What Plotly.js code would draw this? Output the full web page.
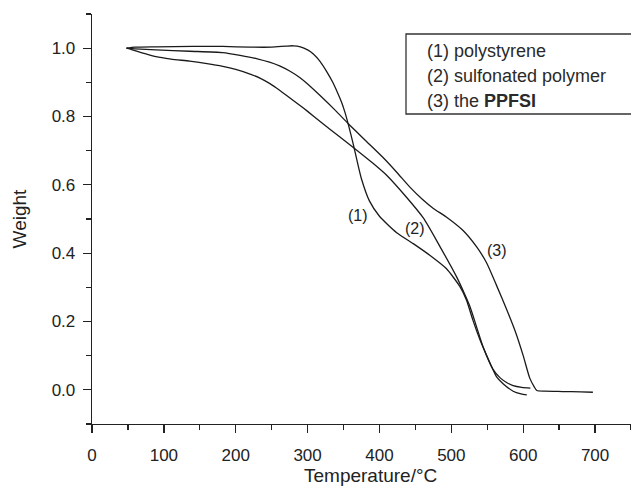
<!DOCTYPE html>
<html>
<head>
<meta charset="utf-8">
<script src="https://cdn.plot.ly/plotly-3.0.1.min.js"></script>
<style>html,body{margin:0;padding:0;background:#fff;}#chart{width:631px;height:487px;}</style>
</head>
<body>
<div id="chart"></div>
<script>
// Series 1: polystyrene
var tempPS = [48, 60, 89, 140, 182, 220, 250, 270, 280, 290, 300, 308, 317, 327, 335, 342, 347, 352, 357, 364, 368, 375, 386, 400, 424, 447, 470, 493, 512, 521, 530, 540, 554, 563, 572, 586, 597, 605];
var weightPS = [1.0, 1.003, 1.004, 1.005, 1.005, 1.003, 1.003, 1.006, 1.007, 1.004, 0.995, 0.983, 0.962, 0.93, 0.9, 0.868, 0.843, 0.812, 0.774, 0.715, 0.678, 0.617, 0.553, 0.508, 0.46, 0.428, 0.394, 0.355, 0.302, 0.263, 0.204, 0.146, 0.078, 0.038, 0.018, -0.004, -0.012, -0.015];
// Series 2: sulfonated polymer
var tempSP = [48, 55, 62, 75, 89, 110, 136, 160, 182, 200, 219, 235, 247, 261, 275, 289, 300, 317, 345, 364.5, 391, 410, 437, 461, 484, 507, 516, 526, 535, 544, 558, 568, 578, 586, 598, 610];
var weightSP = [1.0, 0.996, 0.991, 0.983, 0.975, 0.968, 0.962, 0.955, 0.947, 0.938, 0.925, 0.911, 0.897, 0.877, 0.855, 0.833, 0.815, 0.786, 0.74, 0.708, 0.663, 0.628, 0.565, 0.503, 0.42, 0.332, 0.292, 0.243, 0.185, 0.127, 0.06, 0.035, 0.02, 0.012, 0.007, 0.005];
// Series 3: the PPFSI
var tempPP = [48, 60, 89, 136, 182, 206, 230, 247, 261, 275, 289, 300, 317, 340, 357, 382, 405, 424, 442, 460, 475, 493, 516, 535, 549, 563, 577, 590, 600, 609, 615, 619, 630, 655, 680, 697];
var weightPP = [1.0, 0.998, 0.995, 0.991, 0.987, 0.979, 0.969, 0.959, 0.948, 0.933, 0.914, 0.895, 0.862, 0.815, 0.778, 0.727, 0.68, 0.637, 0.594, 0.557, 0.531, 0.506, 0.467, 0.419, 0.372, 0.305, 0.235, 0.165, 0.1, 0.035, 0.01, -0.002, -0.004, -0.005, -0.006, -0.007];

var legendLines = ["(1) polystyrene", "(2) sulfonated polymer", "(3) the <b>PPFSI</b>"];
var curveLabels = ["(1)", "(2)", "(3)"];
var labelX = [370, 450, 563];
var labelY = [0.511, 0.472, 0.407];
var xTitle = "Temperature/°C";
var yTitle = "Weight";

var traces = [
  {x: tempPS, y: weightPS, mode: 'lines', name: 'polystyrene'},
  {x: tempSP, y: weightSP, mode: 'lines', name: 'sulfonated polymer'},
  {x: tempPP, y: weightPP, mode: 'lines', name: 'the PPFSI'}
];
traces.forEach(function(t){ t.line = {color: '#1a1a1a', width: 1.3, shape: 'spline', smoothing: 0.6}; });

var L = 92, T = 14, W = 631 - 92, H = 487 - 14 - 63;
var annotations = [];
for (var i = 0; i < curveLabels.length; i++) {
  annotations.push({x: labelX[i], y: labelY[i], xref: 'x', yref: 'y', text: curveLabels[i], showarrow: false,
    font: {size: 16, color: '#222'}});
}
for (var j = 0; j < legendLines.length; j++) {
  annotations.push({x: (425 - L) / W, y: (T + H - (51 + 25 * j)) / H, xref: 'paper', yref: 'paper',
    text: legendLines[j], showarrow: false, xanchor: 'left', yanchor: 'middle', font: {size: 18, color: '#2a2a2a'}});
}
annotations.push({x: (370 - L) / W, y: (T + H - 475) / H, xref: 'paper', yref: 'paper', text: xTitle,
  showarrow: false, xanchor: 'center', yanchor: 'middle', font: {size: 19, color: '#222'}});

var layout = {
  width: 631, height: 487,
  margin: {l: L, r: 0, t: T, b: 63, pad: 0},
  paper_bgcolor: '#fff', plot_bgcolor: '#fff',
  font: {family: 'Liberation Sans, Arial, sans-serif', color: '#222', size: 17},
  showlegend: false,
  xaxis: {
    range: [0, 750], tick0: 0, dtick: 100, showgrid: false, zeroline: false,
    showline: true, linecolor: '#222', linewidth: 1.3, ticks: 'outside', ticklen: 8, tickwidth: 1.3, tickcolor: '#222',
    minor: {dtick: 50, ticks: 'outside', ticklen: 5, tickwidth: 1.3, tickcolor: '#222', showgrid: false},
    tickfont: {size: 17, color: '#222'}, ticklabelstandoff: 7
  },
  yaxis: {
    range: [-0.1, 1.1], tick0: 0, dtick: 0.2, tickformat: '.1f', showgrid: false, zeroline: false,
    showline: true, linecolor: '#222', linewidth: 1.3, ticks: 'outside', ticklen: 8, tickwidth: 1.3, tickcolor: '#222',
    minor: {dtick: 0.1, ticks: 'outside', ticklen: 5, tickwidth: 1.3, tickcolor: '#222', showgrid: false},
    tickfont: {size: 17, color: '#222'}, ticklabelstandoff: 4,
    title: {text: yTitle, font: {size: 19, color: '#222'}, standoff: 20}
  },
  shapes: [{type: 'rect', xref: 'paper', yref: 'paper',
    x0: (406 - L) / W, x1: 1.02, y0: (T + H - 114) / H, y1: (T + H - 34) / H,
    line: {color: '#333', width: 1.3}, fillcolor: 'rgba(0,0,0,0)'}],
  annotations: annotations
};

Plotly.newPlot('chart', traces, layout, {staticPlot: true, displayModeBar: false});
</script>
</body>
</html>
